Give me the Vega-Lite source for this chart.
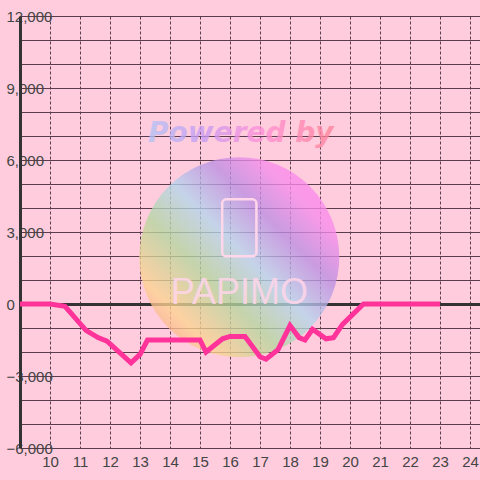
{
  "$schema": "https://vega.github.io/schema/vega-lite/v6.json",
  "width": 460,
  "height": 432,
  "autosize": "none",
  "padding": {"left": 20, "top": 16, "right": 0, "bottom": 32},
  "background": "#ffccdd",
  "config": {"view": {"stroke": null}, "font": "Liberation Sans"},
  "datasets": {
    "series": [
      {"x": 9, "y": 0},
      {"x": 10, "y": 0},
      {"x": 10.5, "y": -100},
      {"x": 11.2, "y": -1100},
      {"x": 11.6, "y": -1400},
      {"x": 11.9, "y": -1550},
      {"x": 12.7, "y": -2450},
      {"x": 13.0, "y": -2100},
      {"x": 13.25, "y": -1500},
      {"x": 15.0, "y": -1500},
      {"x": 15.2, "y": -2000},
      {"x": 15.75, "y": -1450},
      {"x": 16.0, "y": -1350},
      {"x": 16.5, "y": -1350},
      {"x": 17.0, "y": -2200},
      {"x": 17.2, "y": -2300},
      {"x": 17.6, "y": -1900},
      {"x": 18.0, "y": -900},
      {"x": 18.3, "y": -1400},
      {"x": 18.5, "y": -1500},
      {"x": 18.75, "y": -1050},
      {"x": 19.2, "y": -1450},
      {"x": 19.45, "y": -1400},
      {"x": 19.75, "y": -850},
      {"x": 20.45, "y": 0},
      {"x": 23, "y": 0}
    ]
  },
  "encoding": {
    "x": {
      "field": "x",
      "type": "quantitative",
      "scale": {"domain": [9, 24.333], "nice": false, "zero": false},
      "axis": {
        "orient": "bottom",
        "values": [10, 11, 12, 13, 14, 15, 16, 17, 18, 19, 20, 21, 22, 23, 24],
        "format": "d",
        "title": null,
        "domain": false,
        "ticks": false,
        "tickSize": 0,
        "labelPadding": 6,
        "labelFontSize": 15,
        "labelColor": "#444444",
        "labelFlush": false,
        "labelOverlap": false,
        "grid": true,
        "gridColor": "#5a3c4c",
        "gridDash": [3, 2],
        "gridWidth": 1
      }
    },
    "y": {
      "field": "y",
      "type": "quantitative",
      "scale": {"domain": [-6000, 12000], "nice": false, "zero": false},
      "axis": {
        "orient": "left",
        "values": [-6000, -5000, -4000, -3000, -2000, -1000, 0, 1000, 2000, 3000, 4000, 5000, 6000, 7000, 8000, 9000, 10000, 11000, 12000],
        "format": ",d",
        "labelExpr": "datum.value % 3000 === 0 ? datum.label : ''",
        "title": null,
        "domain": true,
        "domainColor": "#333333",
        "domainWidth": 3,
        "ticks": false,
        "tickSize": 0,
        "labelAlign": "left",
        "labelBaseline": "middle",
        "labelPadding": 14,
        "labelFontSize": 15,
        "labelColor": "#444444",
        "labelFlush": false,
        "labelOverlap": false,
        "grid": true,
        "gridColor": {"condition": {"test": "datum.value === 0", "value": "#333333"}, "value": "#5a3c4c"},
        "gridWidth": {"condition": {"test": "datum.value === 0", "value": 3}, "value": 1}
      }
    }
  },
  "layer": [
    {
      "data": {"values": [{"x": 16.31, "y": 1950}]},
      "mark": {
        "type": "point",
        "shape": "circle",
        "size": 40000,
        "filled": true,
        "opacity": 0.78,
        "strokeWidth": 0,
        "fill": {
          "gradient": "linear",
          "x1": 1, "y1": 0, "x2": 0, "y2": 1,
          "stops": [
            {"offset": 0, "color": "#ff80f0"},
            {"offset": 0.2, "color": "#f88cea"},
            {"offset": 0.33, "color": "#bb8ee2"},
            {"offset": 0.48, "color": "#b4d5ec"},
            {"offset": 0.63, "color": "#b4d69e"},
            {"offset": 0.8, "color": "#fdd291"},
            {"offset": 1, "color": "#f5808c"}
          ]
        }
      }
    },
    {
      "data": {"values": [{"x": 15.74, "x2": 16.88, "y": 4360, "y2": 1990}]},
      "mark": {"type": "rect", "fillOpacity": 0, "stroke": "#ffd6ea", "strokeWidth": 2.5, "cornerRadius": 4},
      "encoding": {"x2": {"field": "x2"}, "y2": {"field": "y2"}}
    },
    {
      "data": {"values": [{"x": 16.31, "y": 0, "label": "PAPIMO"}]},
      "mark": {"type": "text", "align": "center", "baseline": "alphabetic", "font": "Liberation Sans", "fontSize": 36, "fill": "#ffd6ea", "opacity": 0.85},
      "encoding": {"text": {"field": "label"}}
    },
    {
      "data": {"values": [{"x": 16.36, "y": 6740, "label": "Powered by"}]},
      "mark": {
        "type": "text",
        "align": "center",
        "baseline": "alphabetic",
        "font": "DejaVu Sans",
        "fontSize": 28,
        "fontWeight": "bold",
        "fontStyle": "italic",
        "opacity": 0.8,
        "fill": {
          "gradient": "linear",
          "x1": 0, "y1": 0, "x2": 1, "y2": 0,
          "stops": [
            {"offset": 0, "color": "#b4c4f4"},
            {"offset": 0.3, "color": "#c89cf4"},
            {"offset": 0.6, "color": "#ff90d8"},
            {"offset": 1, "color": "#ff8496"}
          ]
        }
      },
      "encoding": {"text": {"field": "label"}}
    },
    {
      "data": {"name": "series"},
      "mark": {"type": "line", "color": "#ff3399", "strokeWidth": 5}
    }
  ]
}
